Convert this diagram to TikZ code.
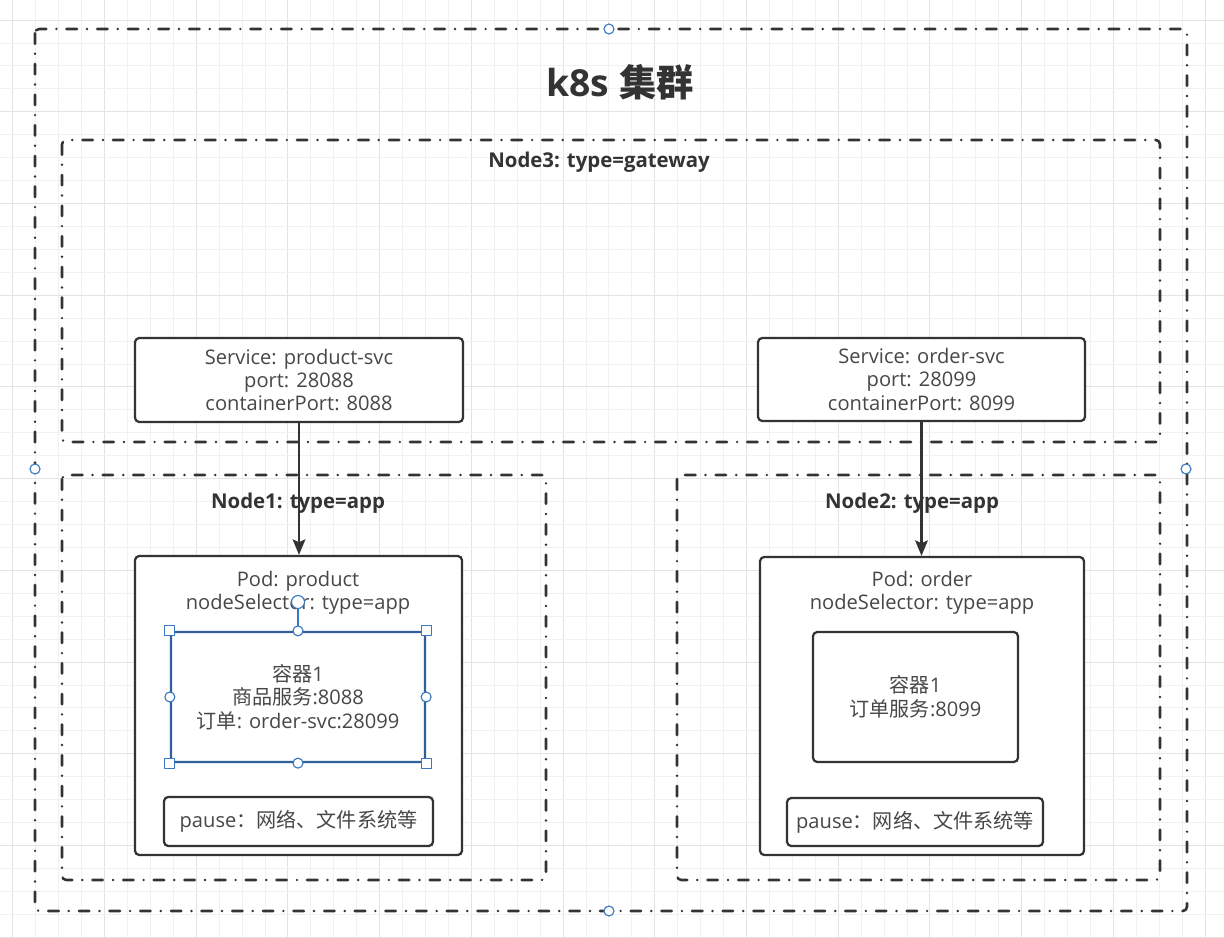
\documentclass[tikz,border=0pt]{standalone}
\usepackage{fontspec}
\setmainfont{Open Sans}
\newfontfamily\cjk{Noto Sans CJK SC}
\usetikzlibrary{arrows.meta,positioning}
\definecolor{linec}{HTML}{333333}
\definecolor{txtc}{HTML}{474747}
\definecolor{selc}{HTML}{3B78C2}
\definecolor{gridmin}{HTML}{F1F1F1}
\definecolor{gridmaj}{HTML}{E3E3E3}
\def\u{0.025cm}
\begin{document}
\begin{tikzpicture}[x=\u, y=-\u, line join=round, line cap=round,
	zone/.style={draw=linec, line width=1.8pt, rounded corners=3pt,
		dash pattern=on 7.5pt off 7.1pt on 0.1pt off 7.1pt},
	box/.style={draw=linec, line width=1.6pt, rounded corners=3pt, fill=white,
		inner sep=0pt, align=center, text=txtc, font=\fontsize{14.3}{16.7}\selectfont},
	selbox/.style={box, draw=selc!80!black},
	txt/.style={inner sep=0pt, align=center, text=txtc, font=\fontsize{14.3}{16.7}\selectfont},
	zlbl/.style={inner sep=0pt, text=linec, font=\fontsize{14.5}{16}\selectfont\bfseries},
	arr/.style={draw=linec, line width=1.6pt, -{Stealth[length=11pt,width=9pt,inset=2pt]}},
	hdl/.style={draw=selc, line width=0.8pt, fill=white}]
	\useasboundingbox (0,0) rectangle (1224,938);
	\fill[white] (0,0) rectangle (1224,938);
	% grid
	\foreach \i in {0,...,53} {
		\pgfmathtruncatemacro\m{mod(\i,4)}
		\ifnum\m=0 \def\gc{gridmaj}\else\def\gc{gridmin}\fi
		\draw[\gc, line width=0.6pt] ({12.7+22.93*\i},0) -- ++(0,938);
	}
	\foreach \j in {0,...,40} {
		\pgfmathtruncatemacro\m{mod(\j,4)}
		\ifnum\m=0 \def\gc{gridmaj}\else\def\gc{gridmin}\fi
		\draw[\gc, line width=0.6pt] (0,{20+22.93*\j}) -- ++(1224,0);
	}
	% zones
	\draw[zone] (35,29) rectangle (1187,911);
	\draw[zone] (62,140) rectangle (1160,442);
	\draw[zone] (62,475) rectangle (546,880);
	\draw[zone] (677,475) rectangle (1160,880);
	\node[inner sep=0pt, text=linec, font=\fontsize{26.5}{30}\selectfont\bfseries] (title) at (620,82) {k8s {\cjk 集群}};
	\node[zlbl] (n3lbl) at (599,162) {Node3: type=gateway};
	\node[zlbl] (n1lbl) at (298,503) {Node1: type=app};
	\node[zlbl] (n2lbl) at (912,503) {Node2: type=app};
	% services
	\node[box, minimum width=328*\u, minimum height=84*\u] (svc1) at (299,380) {Service: product-svc\\port: 28088\\containerPort: 8088};
	\node[box, minimum width=327*\u, minimum height=83*\u] (svc2) at (921.5,379.5) {Service: order-svc\\port: 28099\\containerPort: 8099};
	% pods
	\node[box, minimum width=327*\u, minimum height=299*\u] (pod1) at (298.5,705.5) {};
	\node[txt] (pod1t) at (298,593) {Pod: product\\nodeSelector: type=app};
	\node[selbox, minimum width=254*\u, minimum height=130*\u] (ctr1) at (298,697) {{\cjk 容器}1\\{\cjk 商品服务}:8088\\{\cjk 订单}: order-svc:28099};
	\node[box, minimum width=269*\u, minimum height=49*\u] (pause1) at (298.5,821.5) {pause{\cjk ：网络、文件系统等}};
	\node[box, minimum width=324*\u, minimum height=298*\u] (pod2) at (922,706) {};
	\node[txt] (pod2t) at (922,593) {Pod: order\\nodeSelector: type=app};
	\node[box, minimum width=205*\u, minimum height=130*\u] (ctr2) at (915.5,697) {{\cjk 容器}1\\{\cjk 订单服务}:8099};
	\node[box, minimum width=256*\u, minimum height=48*\u] (pause2) at (915,822) {pause{\cjk ：网络、文件系统等}};
	% connectors
	\draw[arr] (svc1.south) -- (svc1.south |- pod1.north);
	\draw[arr] (svc2.south) -- (svc2.south |- pod2.north);
	% selection handles
	\draw[selc, line width=0.8pt] (ctr1.north) -- (298,604);
	\draw[hdl] (298,602) circle (6.5);
	\foreach \p in {ctr1.north, ctr1.south, ctr1.west, ctr1.east} \draw[hdl] (\p) circle (5);
	\foreach \p in {ctr1.north west, ctr1.north east, ctr1.south west, ctr1.south east}
		\draw[hdl] ([shift={(-5,-5)}]\p) rectangle ([shift={(5,5)}]\p);
	\foreach \x/\y in {609/29, 35/469, 1186/469, 609/911} \draw[hdl] (\x,\y) circle (5);
\end{tikzpicture}
\end{document}
